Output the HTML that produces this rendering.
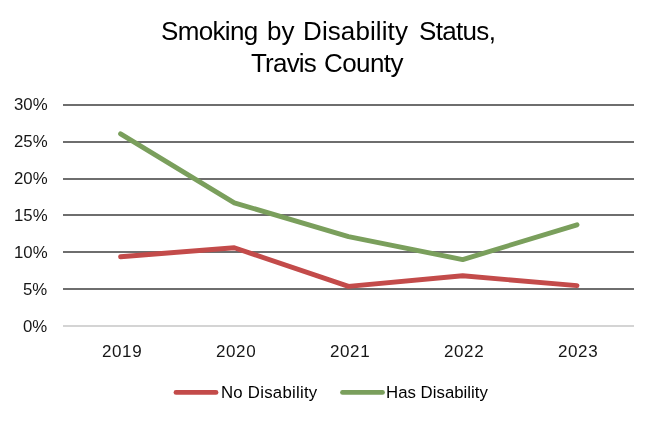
<!DOCTYPE html>
<html>
<head>
<meta charset="utf-8">
<style>
html,body{margin:0;padding:0;background:#fff;}
body{width:657px;height:422px;position:relative;overflow:hidden;font-family:"Liberation Sans",sans-serif;}
.t{position:absolute;white-space:nowrap;line-height:1;will-change:transform;}
.title{font-size:26px;color:#000;}
.ax{font-size:16.8px;color:#161616;}
.xl{letter-spacing:0.6px;font-size:17px;}
.lg{font-size:16.8px;color:#000;letter-spacing:0.25px;}
svg{position:absolute;left:0;top:0;}
</style>
</head>
<body>
<svg width="657" height="422" viewBox="0 0 657 422">
  <g stroke="#6e6e6e" stroke-width="2">
    <line x1="63" y1="105" x2="634" y2="105"/>
    <line x1="63" y1="142" x2="634" y2="142"/>
    <line x1="63" y1="179" x2="634" y2="179"/>
    <line x1="63" y1="215" x2="634" y2="215"/>
    <line x1="63" y1="252" x2="634" y2="252"/>
    <line x1="63" y1="289" x2="634" y2="289"/>
  </g>
  <line x1="63" y1="326" x2="634" y2="326" stroke="#d4d4d4" stroke-width="2"/>
  <polyline fill="none" stroke="#c34b4a" stroke-width="4.9" stroke-linecap="round" stroke-linejoin="round"
    points="120.6,256.7 234.3,247.8 348.5,286.4 462.7,275.8 577,285.6"/>
  <polyline fill="none" stroke="#7a9f5c" stroke-width="4.9" stroke-linecap="round" stroke-linejoin="round"
    points="120.6,133.8 234.3,202.8 348.5,236.6 462.7,259.6 577,224.8"/>
  <line x1="176" y1="392.4" x2="216" y2="392.4" stroke="#c34b4a" stroke-width="4.8" stroke-linecap="round"/>
  <line x1="342.5" y1="392.4" x2="382.5" y2="392.4" stroke="#7a9f5c" stroke-width="4.8" stroke-linecap="round"/>
</svg>
<div class="t title" style="left:161px;top:18px;letter-spacing:-0.67px;">Smoking</div>
<div class="t title" style="left:267px;top:18px;">by</div>
<div class="t title" style="left:303.4px;top:18px;letter-spacing:0.1px;">Disability</div>
<div class="t title" style="left:419.4px;top:18px;letter-spacing:-0.67px;">Status,</div>
<div class="t title" style="left:250.5px;top:49.6px;letter-spacing:-0.8px;">Travis</div>
<div class="t title" style="left:324.2px;top:49.6px;letter-spacing:-0.6px;">County</div>

<div class="t ax" id="y30" style="right:609.5px;top:97px;">30%</div>
<div class="t ax" id="y25" style="right:609.5px;top:134px;">25%</div>
<div class="t ax" id="y20" style="right:609.5px;top:171px;">20%</div>
<div class="t ax" id="y15" style="right:609.5px;top:208px;">15%</div>
<div class="t ax" id="y10" style="right:609.5px;top:245px;">10%</div>
<div class="t ax" id="y5" style="right:609.5px;top:282px;">5%</div>
<div class="t ax" id="y0" style="right:609.5px;top:319px;">0%</div>

<div class="t ax xl" id="x19" style="left:102px;top:342.7px;">2019</div>
<div class="t ax xl" id="x20" style="left:216px;top:342.7px;">2020</div>
<div class="t ax xl" id="x21" style="left:330px;top:342.7px;">2021</div>
<div class="t ax xl" id="x22" style="left:444px;top:342.7px;">2022</div>
<div class="t ax xl" id="x23" style="left:558px;top:342.7px;">2023</div>

<div class="t lg" id="l1" style="left:221px;top:384.7px;">No Disability</div>
<div class="t lg" id="l2" style="left:386px;letter-spacing:0.02px;top:384.7px;">Has Disability</div>
</body>
</html>
